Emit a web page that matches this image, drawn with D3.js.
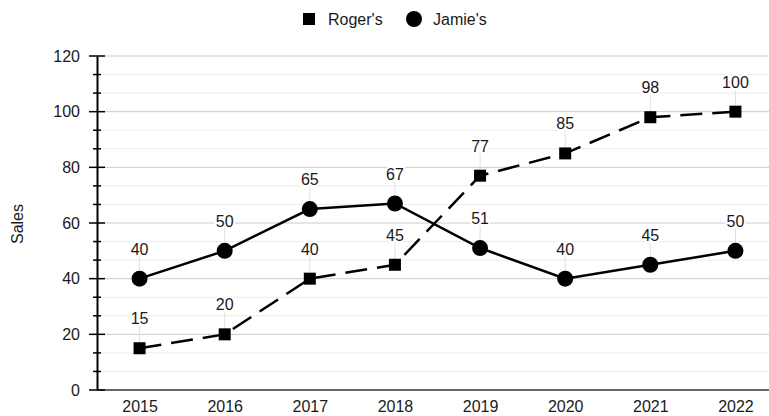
<!DOCTYPE html>
<html><head><meta charset="utf-8">
<script src="https://cdn.jsdelivr.net/npm/d3@7"></script>
<style>body{margin:0;background:#fff}svg{display:block;font-family:"Liberation Sans",Arial,sans-serif}</style>
</head><body><svg id="c" width="769" height="416"></svg>
<script>
const years = ["2015","2016","2017","2018","2019","2020","2021","2022"];
const rogers = [15,20,40,45,77,85,98,100];
const jamies = [40,50,65,67,51,40,45,50];
const yTicks = [0,20,40,60,80,100,120];
const seriesNames = ["Roger's","Jamie's"];

const FS = 16, TC = "#1a1a1a", FF = '"Liberation Sans",Arial,sans-serif';
const svg = d3.select("#c");
const W = 769;
const x = d3.scalePoint().domain(years).range([97,778]).padding(0.5);
const y = d3.scaleLinear().domain([0,120]).range([390,56]);
const minor = d3.range(0,121,20/3).filter(v=>!yTicks.some(t=>Math.abs(t-v)<1e-6));

svg.append("g").selectAll("line").data(minor).join("line")
  .attr("x1",97).attr("x2",W).attr("y1",d=>y(d)).attr("y2",d=>y(d))
  .attr("stroke","#ebebeb").attr("stroke-width",1);
svg.append("g").selectAll("line").data(yTicks.filter(d=>d>0)).join("line")
  .attr("x1",97).attr("x2",W).attr("y1",d=>y(d)).attr("y2",d=>y(d))
  .attr("stroke","#cccccc").attr("stroke-width",1);
svg.append("line").attr("x1",97).attr("x2",W).attr("y1",y(0)).attr("y2",y(0))
  .attr("stroke","#333").attr("stroke-width",1.5);

const yAxis = d3.axisLeft(y).tickValues(yTicks).tickSize(0).tickPadding(17);
const ga = svg.append("g").attr("transform","translate(97,0)").call(yAxis);
ga.select(".domain").attr("stroke","#000").attr("stroke-width",2);
ga.selectAll("text").attr("font-size",FS).attr("fill",TC).attr("font-family",FF);
svg.append("g").selectAll("line").data(yTicks).join("line")
  .attr("x1",89).attr("x2",105).attr("y1",d=>y(d)).attr("y2",d=>y(d))
  .attr("stroke","#000").attr("stroke-width",1.5);
svg.append("g").selectAll("line").data(minor).join("line")
  .attr("x1",93).attr("x2",101).attr("y1",d=>y(d)).attr("y2",d=>y(d))
  .attr("stroke","#000").attr("stroke-width",1.5);

const xAxis = d3.axisBottom(x).tickSize(0).tickPadding(11);
const gx = svg.append("g").attr("transform","translate(0,390)").call(xAxis);
gx.select(".domain").remove();
gx.selectAll("text").attr("font-size",FS).attr("fill",TC).attr("font-family",FF);

svg.append("text").attr("transform","translate(23,224) rotate(-90)")
  .attr("text-anchor","middle").attr("font-size",FS).attr("fill",TC).text("Sales");

function leaders(vals){
  svg.append("g").selectAll("line").data(vals).join("line")
    .attr("x1",(d,i)=>x(years[i])).attr("x2",(d,i)=>x(years[i]))
    .attr("y1",d=>y(d)-22).attr("y2",d=>y(d))
    .attr("stroke","#e0e0e0").attr("stroke-width",1);
}
leaders(rogers); leaders(jamies);

const line = d3.line().x((d,i)=>x(years[i])).y(d=>y(d));
svg.append("path").datum(rogers).attr("d",line).attr("fill","none")
  .attr("stroke","#000").attr("stroke-width",2.5).attr("stroke-dasharray","22,10");
svg.append("path").datum(jamies).attr("d",line).attr("fill","none")
  .attr("stroke","#000").attr("stroke-width",2.5);

svg.append("g").selectAll("rect").data(rogers).join("rect")
  .attr("x",(d,i)=>x(years[i])-6).attr("y",d=>y(d)-6).attr("width",12).attr("height",12).attr("fill","#000");
svg.append("g").selectAll("circle").data(jamies).join("circle")
  .attr("cx",(d,i)=>x(years[i])).attr("cy",d=>y(d)).attr("r",8).attr("fill","#000");

function labels(vals){
  const g = svg.append("g");
  vals.forEach((d,i)=>{
    g.append("text").attr("x",x(years[i])).attr("y",y(d)-24)
      .attr("text-anchor","middle").attr("font-size",FS).attr("fill",TC)
      .attr("stroke","#fff").attr("stroke-width",4).attr("paint-order","stroke").text(d);
  });
}
labels(rogers); labels(jamies);

const lg = svg.append("g");
lg.append("rect").attr("x",303).attr("y",13).attr("width",12).attr("height",12).attr("fill","#000");
lg.append("text").attr("x",328).attr("y",25).attr("font-size",FS).attr("fill",TC).text(seriesNames[0]);
lg.append("circle").attr("cx",414).attr("cy",19).attr("r",8).attr("fill","#000");
lg.append("text").attr("x",433).attr("y",25).attr("font-size",FS).attr("fill",TC).text(seriesNames[1]);
</script></body></html>
